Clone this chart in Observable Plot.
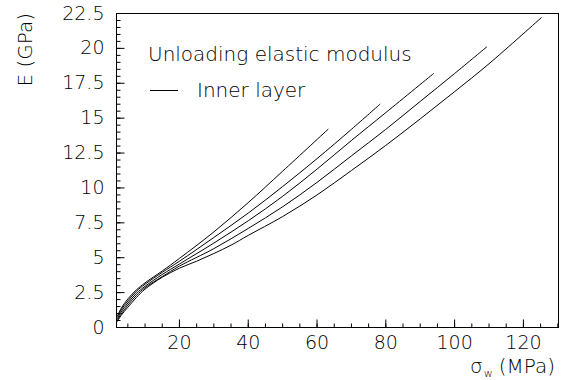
<!DOCTYPE html>
<html><head><meta charset="utf-8">
<script src="https://cdn.jsdelivr.net/npm/d3@7"></script>
<script src="https://cdn.jsdelivr.net/npm/@observablehq/plot@0.6"></script>
<style>
body{margin:0;background:#fff;}
#wrap{position:relative;width:562px;height:380px;font-family:"DejaVu Sans",sans-serif;font-weight:200;color:#000;}
.ov{position:absolute;white-space:nowrap;line-height:1;}
</style></head><body><div id="wrap"></div>
<script>
// Curves: unloading elastic modulus E (GPa) vs sigma_w (MPa), inner layer
const curve1Sigma = [2, 3, 5, 7.5, 10, 15, 20, 30, 40, 50, 63.2];
const curve1E     = [0.85, 1.35, 2.05, 2.7, 3.2, 4.05, 4.95, 6.85, 8.95, 11.2, 14.2];
const curve2Sigma = [2, 3, 5, 7.5, 10, 15, 20, 30, 40, 50, 60, 70, 78.3];
const curve2E     = [0.75, 1.25, 1.9, 2.6, 3.1, 3.95, 4.75, 6.45, 8.2, 10.1, 12.1, 14.2, 16.0];
const curve3Sigma = [2, 3, 5, 7.5, 10, 15, 20, 30, 40, 50, 60, 70, 80, 93.9];
const curve3E     = [0.65, 1.1, 1.75, 2.45, 2.95, 3.8, 4.55, 6.05, 7.65, 9.4, 11.35, 13.4, 15.4, 18.2];
const curve4Sigma = [2, 3, 5, 7.5, 10, 15, 20, 30, 40, 50, 60, 70, 80, 90, 100, 109.3];
const curve4E     = [0.55, 0.95, 1.6, 2.3, 2.85, 3.65, 4.4, 5.65, 7.1, 8.65, 10.4, 12.3, 14.2, 16.2, 18.2, 20.1];
const curve5Sigma = [2, 3, 5, 7.5, 10, 15, 20, 25, 30, 35, 40, 50, 60, 70, 80, 90, 100, 110, 125.2];
const curve5E     = [0.45, 0.85, 1.45, 2.15, 2.75, 3.6, 4.25, 4.75, 5.3, 5.9, 6.6, 7.95, 9.5, 11.25, 13.05, 14.95, 16.9, 18.9, 22.2];

const xMajorTicks = [20, 40, 60, 80, 100, 120];
const yMajorTicks = [0, 2.5, 5, 7.5, 10, 12.5, 15, 17.5, 20, 22.5];
const xTitle = "(MPa)";
const yTitle = "E (GPa)";
const legendTitle = "Unloading elastic modulus";
const legendEntry = "Inner layer";

const curves = [
  [curve1Sigma, curve1E], [curve2Sigma, curve2E], [curve3Sigma, curve3E],
  [curve4Sigma, curve4E], [curve5Sigma, curve5E]
];
const data = curves.flatMap(([xs, ys], k) => xs.map((x, i) => ({x, y: ys[i], series: k})));

const xDomain = [1.7, 130.2];
const yDomain = [0, 22.5];
const xMinorTicks = d3.range(5, 130.1, 5);
const yMinorTicks = d3.range(0, 22.51, 0.5);

const W = 562, H = 380, mL = 116, mR = 4, mT = 13, mB = 53;
// tick lengths in pixels, converted through the library's scales
const sx = Plot.scale({x: {domain: xDomain, range: [mL, W - mR]}});
const sy = Plot.scale({y: {domain: yDomain, range: [H - mB, mT]}});
const xLen = px => sx.invert(mL + px) - xDomain[0];
const yLen = px => sy.invert(H - mB - px) - yDomain[0];

const chart = Plot.plot({
  width: W, height: H,
  marginLeft: mL, marginRight: mR, marginTop: mT, marginBottom: mB,
  x: {domain: xDomain},
  y: {domain: yDomain},
  style: {fontFamily: '"DejaVu Sans", sans-serif', fontSize: "19px", fontWeight: 200, color: "black"},
  marks: [
    Plot.axisX({ticks: xMajorTicks, tickSize: 0, tickPadding: 8, tickFormat: d => String(d), label: null}),
    Plot.axisY({ticks: yMajorTicks, tickSize: 0, tickPadding: 12, tickFormat: d => String(d), label: null}),
    // inward ticks drawn as path links
    Plot.link(xMinorTicks, {x1: d => d, x2: d => d, y1: () => yDomain[0], y2: () => yDomain[0] + yLen(4), stroke: "black", strokeWidth: 1}),
    Plot.link(xMajorTicks, {x1: d => d, x2: d => d, y1: () => yDomain[0], y2: () => yDomain[0] + yLen(8), stroke: "black", strokeWidth: 1}),
    Plot.link(yMinorTicks, {y1: d => d, y2: d => d, x1: () => xDomain[0], x2: () => xDomain[0] + xLen(4), stroke: "black", strokeWidth: 1}),
    Plot.link(yMajorTicks, {y1: d => d, y2: d => d, x1: () => xDomain[0], x2: () => xDomain[0] + xLen(8), stroke: "black", strokeWidth: 1}),
    Plot.frame({stroke: "black", strokeWidth: 1}),
    Plot.line(data, {x: "x", y: "y", z: "series", stroke: "black", strokeWidth: 1, curve: "catmull-rom"})
  ]
});
const wrap = document.getElementById("wrap");
wrap.appendChild(chart);

const yt = document.createElement("div");
yt.className = "ov";
yt.style.cssText = "left:15px;top:13px;font-size:20px;writing-mode:vertical-rl;transform:rotate(180deg);";
yt.textContent = yTitle;
wrap.appendChild(yt);

const xt = document.createElement("div");
xt.className = "ov";
xt.style.cssText = "right:7px;top:356px;font-size:20px;";
xt.innerHTML = 'σ<span style="font-size:11px;position:relative;top:4px;margin:0 6px 0 1px;">w</span>' + xTitle;
wrap.appendChild(xt);

const lg1 = document.createElement("div");
lg1.className = "ov";
lg1.style.cssText = "left:148px;top:44px;font-size:20px;";
lg1.textContent = legendTitle;
wrap.appendChild(lg1);

const lg2 = document.createElement("div");
lg2.className = "ov";
lg2.style.cssText = "left:150px;top:80px;font-size:20px;display:flex;align-items:center;";
lg2.innerHTML = '<span style="display:inline-block;width:28px;border-top:1px solid #000;margin-right:19px;"></span>' + legendEntry;
wrap.appendChild(lg2);
</script>
</body></html>
